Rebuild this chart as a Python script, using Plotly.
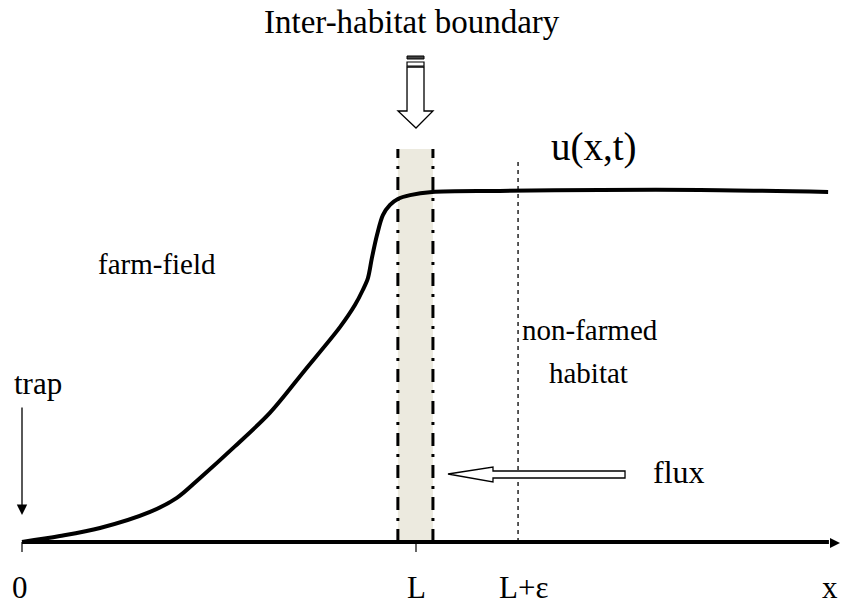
"""Schematic: population density u(x,t) across a farm-field / habitat boundary."""
import plotly.graph_objects as go

# position along x, in units of L (0 = trap, 1 = inter-habitat boundary)
position = [0, 0.096, 0.198, 0.325, 0.393, 0.452, 0.541, 0.629, 0.718, 0.807,
            0.845, 0.865, 0.878, 0.888, 0.901, 0.916, 0.934, 0.954, 0.985,
            1.041, 1.213, 1.467, 1.721, 2.046]
# density u(x,t), scaled so the far-field plateau is 1
density = [0, 0.017, 0.040, 0.086, 0.126, 0.183, 0.274, 0.369, 0.491, 0.614,
           0.677, 0.720, 0.754, 0.811, 0.877, 0.934, 0.963, 0.980, 0.991,
           1.000, 1.003, 1.006, 1.006, 1.000]

boundary_band = [0.954, 1.043]   # edges of the inter-habitat strip
band_top = 1.123
probe_x = 1.259                  # L + epsilon
probe_top = 1.097
tick_positions = [0, 1.0, 1.259, 2.058]
tick_labels = ["0", "L", "L+ε", "x"]
tick_marks = [0, 1.0]

FONT = "Liberation Serif, Times New Roman, serif"


# helpers to place decorations from picture pixels
def dx(px):
    return (px - 22) / 394


def dy(py):
    return (542 - py) / 350


def path(points):
    return "M " + " L ".join(f"{dx(a):.4f},{dy(b):.4f}" for a, b in points) + " Z"


fig = go.Figure()

# shaded boundary strip
fig.add_shape(type="rect", x0=boundary_band[0], x1=boundary_band[1], y0=0, y1=band_top,
              fillcolor="#ECEADF", line_width=0, layer="below")
for edge in boundary_band:
    fig.add_trace(go.Scatter(x=[edge, edge], y=[0, band_top], mode="lines",
                             line=dict(color="black", width=3, dash="13px,8px,3px,8px")))

# L + epsilon dotted line
fig.add_trace(go.Scatter(x=[probe_x, probe_x], y=[0, probe_top], mode="lines",
                         line=dict(color="black", width=1.3, dash="4px,4px")))

# x axis
fig.add_trace(go.Scatter(x=[0, tick_positions[-1] - 0.01], y=[0, 0], mode="lines",
                         line=dict(color="black", width=4)))
fig.add_shape(type="path", path=path([(830, 538), (840, 543), (830, 548)]),
              fillcolor="black", line_width=0)
for t in tick_marks:
    fig.add_trace(go.Scatter(x=[t, t], y=[0, dy(552)], mode="lines",
                             line=dict(color="black", width=1.2)))

# density curve
fig.add_trace(go.Scatter(x=position, y=density, mode="lines",
                         line=dict(color="black", width=4, shape="spline", smoothing=0.9)))

# block arrow pointing at the boundary
fig.add_shape(type="path",
              path=path([(407, 67), (424, 67), (424, 111), (433, 111), (416, 128),
                         (398, 111), (407, 111)]),
              fillcolor="white", line=dict(color="black", width=1.3))
fig.add_shape(type="path", path=path([(407, 56), (424, 56), (424, 59), (407, 59)]),
              fillcolor="#444", line=dict(color="black", width=1))
fig.add_shape(type="path", path=path([(407, 62), (424, 62), (424, 66), (407, 66)]),
              fillcolor="white", line=dict(color="black", width=1.2))

# flux arrow
fig.add_shape(type="path",
              path=path([(448, 474), (493, 467), (493, 471), (625, 471), (625, 478),
                         (493, 478), (493, 482)]),
              fillcolor="white", line=dict(color="black", width=1.3))

# trap arrow
fig.add_annotation(x=dx(22), y=dy(515), ax=dx(22), ay=dy(406), xref="x", yref="y",
                   axref="x", ayref="y", text="", showarrow=True, arrowhead=2,
                   arrowsize=1.6, arrowwidth=1.3, arrowcolor="black")

texts = [
    ("Inter-habitat boundary", 412, 22, 33),
    ("u(x,t)", 594, 147, 39),
    ("farm-field", 157, 264, 29),
    ("non-farmed", 590, 330, 29),
    ("habitat", 588, 373, 29),
    ("trap", 38, 383, 31),
    ("flux", 679, 472, 32),
]
for label, px, py, size in texts:
    fig.add_annotation(x=dx(px), y=dy(py), text=label, showarrow=False,
                       font=dict(family=FONT, size=size, color="black"))

label_px = [20, 416, 523, 840]
label_anchor = ["center", "center", "center", "right"]
for lab, lp, anc in zip(tick_labels, label_px, label_anchor):
    fig.add_annotation(x=dx(lp), y=dy(604), text=lab, showarrow=False,
                       xanchor=anc, yanchor="bottom", yshift=-3,
                       font=dict(family=FONT, size=31, color="black"))

fig.update_layout(
    width=841,
    height=604,
    margin=dict(l=0, r=0, t=0, b=0),
    paper_bgcolor="white",
    plot_bgcolor="white",
    showlegend=False,
    xaxis=dict(range=[dx(0), dx(841)], visible=False, fixedrange=True),
    yaxis=dict(range=[dy(604), dy(0)], visible=False, fixedrange=True),
)

# drop the page's default body margin so the figure fills the window exactly
fig.write_html(
    "out.html",
    config={"displayModeBar": False},
    post_script="document.body.style.margin='0';"
                "document.documentElement.style.overflow='hidden';",
)
